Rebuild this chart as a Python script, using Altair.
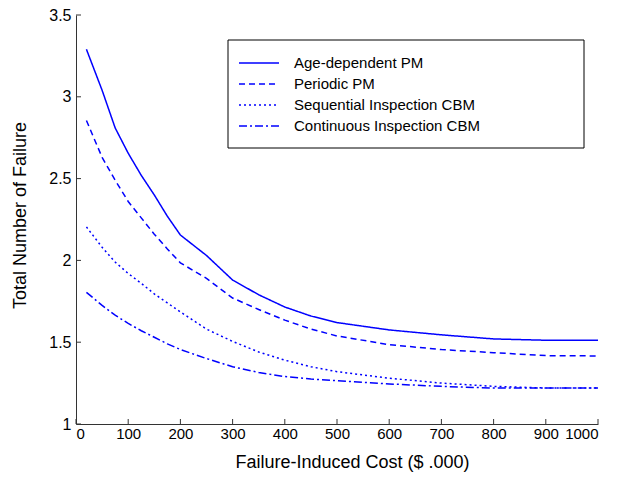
import altair as alt
import pandas as pd

cost = [20, 50, 75, 100, 125, 150, 175, 200, 250, 300, 350, 400, 450, 500, 600, 700, 800, 900, 1000]
age_pm = [3.29, 3.04, 2.81, 2.655, 2.52, 2.40, 2.27, 2.155, 2.03, 1.88, 1.79, 1.715, 1.66, 1.62,
          1.575, 1.545, 1.52, 1.512, 1.512]
periodic_pm = [2.855, 2.63, 2.49, 2.36, 2.26, 2.16, 2.07, 1.985, 1.89, 1.77, 1.70, 1.635, 1.58, 1.538,
               1.485, 1.455, 1.436, 1.418, 1.416]
sequential_cbm = [2.205, 2.08, 1.99, 1.92, 1.86, 1.795, 1.74, 1.685, 1.58, 1.505, 1.44, 1.39, 1.35, 1.32,
                  1.28, 1.25, 1.23, 1.22, 1.22]
continuous_cbm = [1.805, 1.725, 1.665, 1.615, 1.57, 1.53, 1.49, 1.455, 1.40, 1.35, 1.315, 1.29, 1.275, 1.265,
                  1.245, 1.23, 1.22, 1.22, 1.22]

series_names = ["Age-dependent PM", "Periodic PM", "Sequential Inspection CBM", "Continuous Inspection CBM"]
series_values = [age_pm, periodic_pm, sequential_cbm, continuous_cbm]

x_ticks = [0, 100, 200, 300, 400, 500, 600, 700, 800, 900, 1000]
y_ticks = [1, 1.5, 2, 2.5, 3, 3.5]

rows = []
for name, vals in zip(series_names, series_values):
    for c, v in zip(cost, vals):
        rows.append({"series": name, "cost": c, "failures": v})
df = pd.DataFrame(rows)

W, H = 522, 409
FONT = "Liberation Sans"

xs = alt.Scale(domain=[0, 1000], nice=False)
ys = alt.Scale(domain=[1, 3.5], nice=False)

lines = alt.Chart(df).mark_line(strokeWidth=1.5, color="#0000ff").encode(
    x=alt.X("cost:Q", scale=xs, title="Failure-Induced Cost ($ .000)",
            axis=alt.Axis(values=x_ticks, tickSize=0, labelPadding=2, titlePadding=12,
                          grid=False, format="d", titleX=276, labelFontSize=15)),
    y=alt.Y("failures:Q", scale=ys, title="Total Number of Failure",
            axis=alt.Axis(values=y_ticks, tickSize=0, labelPadding=5, titlePadding=19,
                          grid=False, format="~g", titleY=200, labelFontSize=16)),
    strokeDash=alt.StrokeDash(
        "series:N",
        scale=alt.Scale(domain=series_names, range=[[1, 0], [6, 4], [2, 3], [8, 3, 2, 3]]),
        sort=series_names,
        legend=alt.Legend(
            title=None, orient="none", legendX=162, legendY=37,
            symbolType="M-1,0H3", symbolSize=400, symbolStrokeWidth=1.5,
            symbolStrokeColor="#0000ff", symbolFillColor="transparent",
            labelFontSize=15, labelFont=FONT,
            labelColor="#000000", padding=0,
            rowPadding=2, labelOffset=34, labelLimit=500,
        ),
    ),
    order=alt.Order("cost:Q"),
)

# legend frame (decoration)
frame = alt.Chart(pd.DataFrame({"k": [0]})).mark_rect(
    fill="white", stroke="#000000", strokeWidth=1
).encode(x=alt.value(152), x2=alt.value(508), y=alt.value(25), y2=alt.value(133))

ytick_df = pd.DataFrame({"v": y_ticks})
xtick_df = pd.DataFrame({"v": x_ticks})

ytick_rules = alt.Chart(ytick_df).mark_rule(color="#333333", strokeWidth=1).encode(
    y=alt.Y("v:Q", scale=ys), x=alt.value(0), x2=alt.value(5)
)
xtick_rules = alt.Chart(xtick_df).mark_rule(color="#333333", strokeWidth=1).encode(
    x=alt.X("v:Q", scale=xs), y=alt.value(H), y2=alt.value(H - 5)
)

chart = alt.layer(frame, lines, ytick_rules, xtick_rules).properties(
    width=W, height=H,
    padding={"left": 68, "top": 7, "right": 20, "bottom": 50},
    autosize=alt.AutoSizeParams(type="none"),
).configure_view(stroke=None).configure_axis(
    domainColor="#333333", domainWidth=1,
    labelFont=FONT, labelColor="#000000",
    titleFont=FONT, titleFontWeight="normal", titleColor="#000000", titleFontSize=18,
)

chart.save("out.html", embed_options={"renderer": "svg", "actions": False})
